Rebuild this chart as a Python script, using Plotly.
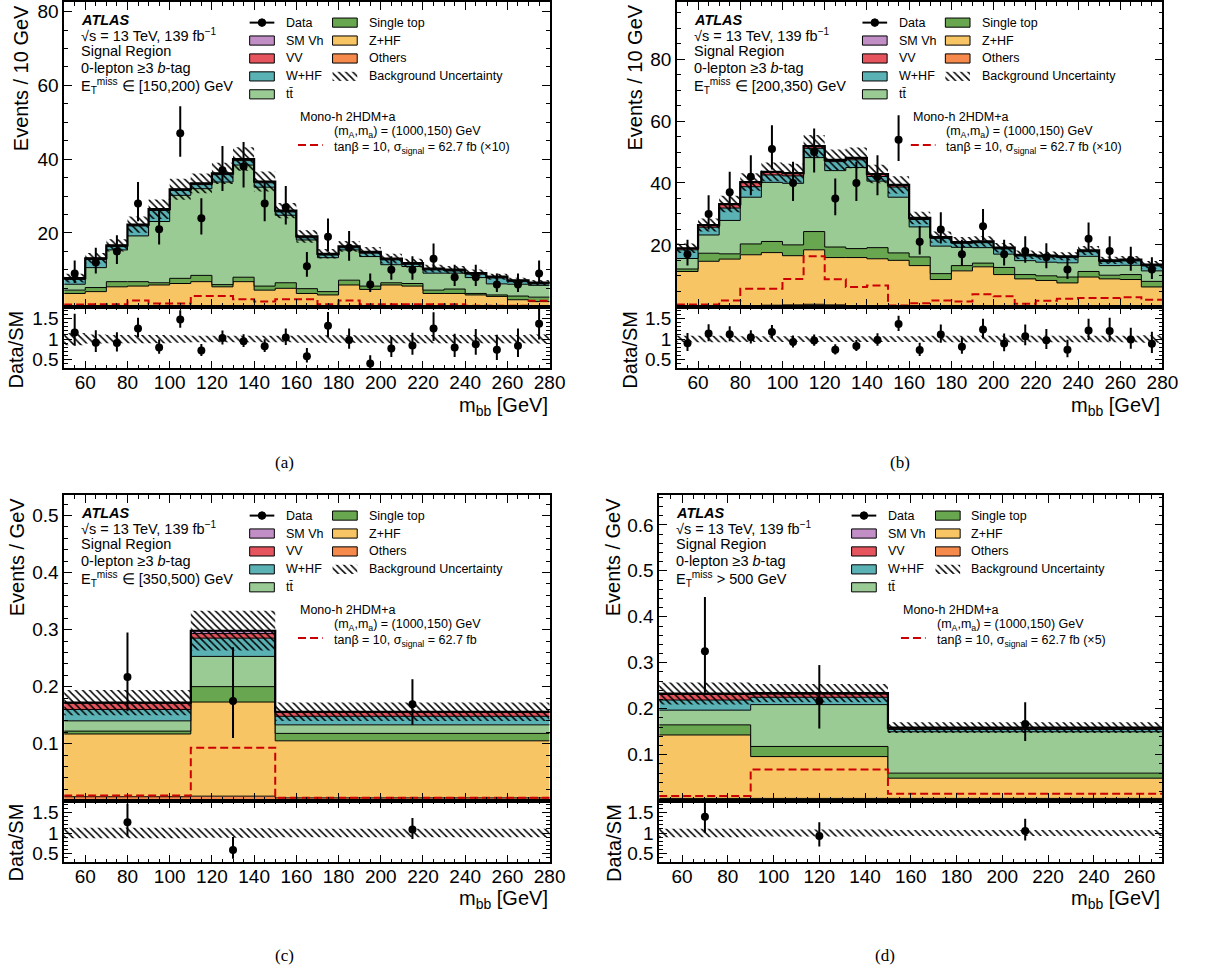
import numpy as np
import plotly.graph_objects as go

W, H = 1212, 976
FONT = "Liberation Sans, Arial, Helvetica, sans-serif"
SERIF = "Liberation Serif, Times New Roman, serif"

# ---------------- colours ----------------
C_OTHERS = "#f58a4c"
C_ZHF = "#f8c565"
C_STOP = "#68a74f"
C_TTBAR = "#9acb94"
C_WHF = "#5bb2b5"
C_VV = "#e6545d"
C_VH = "#c18ec6"
C_SIG = "#cc0000"

# ---------------- panel (a): MET in [150,200) ----------------
edges_a = [50, 60, 70, 80, 90, 100, 110, 120, 130, 140, 150, 160, 170, 180, 190, 200,
           210, 220, 230, 240, 250, 260, 270, 280]
data_a = [9, 12, 15, 28, 21, 47, 24, 37, 38, 28, 27, 11, 19, 16, 6, 10, 10, 13, 8, 8, 6, 6, 9]
others_a = [0.2, 0.2, 0.3, 0.2, 0.2, 0.3, 0.2, 0.2, 0.3, 0.2, 0.2, 0.2, 0.1, 0.2, 0.2, 0.2,
            0.1, 0.1, 0.2, 0.1, 0.1, 0.1, 0.1]
zhf_a = [3.4, 3.9, 5.1, 5.4, 5.7, 6.0, 6.6, 5.2, 6.5, 4.3, 4.8, 3.4, 3.1, 5.7, 4.5, 5.7,
         5.5, 3.5, 3.4, 3.1, 2.7, 1.8, 1.3]
stop_a = [0.9, 1.1, 1.4, 1.2, 0.6, 1.4, 1.7, 0.6, 1.2, 1.1, 1.5, 1.3, 0.9, 1.3, 0.9, 0.6,
          0.7, 0.9, 1.2, 0.4, 0.4, 1.0, 1.2]
ttbar_a = [1.6, 5.4, 8.6, 12.4, 16.6, 22.5, 23.5, 27.8, 30.4, 26.8, 18.3, 13.2, 9.2, 8.2,
           8.0, 4.9, 4.6, 4.6, 4.3, 4.3, 3.0, 3.2, 3.2]
whf_a = [1.3, 2.2, 0.9, 2.7, 3.0, 1.3, 1.1, 2.0, 1.2, 1.2, 0.9, 0.6, 0.7, 0.6, 0.9, 1.3,
         0.6, 0.9, 0.6, 0.9, 1.6, 0.7, 0.4]
vv_a = [0.3, 0.3, 0.3, 0.3, 0.3, 0.3, 0.3, 0.3, 0.4, 0.3, 0.3, 0.3, 0.3, 0.3, 0.3, 0.3,
        0.3, 0.3, 0.3, 0.3, 0.3, 0.3, 0.3]
vh_a = [0.05, 0.05, 0.05, 0.05, 0.05, 0.05, 0.05, 0.05, 0.05, 0.05, 0.05, 0.05, 0.05, 0.05,
        0.05, 0.05, 0.05, 0.05, 0.05, 0.05, 0.05, 0.05, 0.05]
sig_a = [0.6, 0.7, 0.7, 1.7, 0.9, 0.9, 2.9, 2.9, 2.0, 1.4, 2.0, 2.0, 0.7, 1.7, 0.7, 0.7,
         0.7, 0.7, 0.7, 0.3, 0.3, 0.3, 1.6]
relunc_a = [0.15, 0.11, 0.10, 0.10, 0.10, 0.09, 0.08, 0.08, 0.08, 0.08, 0.08, 0.09, 0.09,
            0.09, 0.09, 0.10, 0.10, 0.10, 0.10, 0.10, 0.10, 0.10, 0.11]

# ---------------- panel (b): MET in [200,350) ----------------
edges_b = edges_a
data_b = [17, 30, 37, 42, 51, 40, 50, 35, 40, 42, 54, 21, 25, 17, 26, 17, 18, 16, 12, 22, 18, 15, 12]
others_b = [0.3, 0.3, 0.3, 0.4, 0.5, 0.6, 0.8, 0.6, 0.4, 0.3, 0.3, 0.2, 0.2, 0.2, 0.2, 0.2,
            0.2, 0.2, 0.2, 0.2, 0.2, 0.2, 0.2]
zhf_b = [11.1, 14.4, 15.1, 16.4, 17.0, 15.9, 17.6, 15.3, 15.5, 15.2, 14.7, 13.1, 8.6, 11.4,
         12.7, 10.2, 8.8, 8.3, 7.5, 9.4, 8.8, 8.6, 6.2]
stop_b = [0.8, 2.6, 1.7, 3.5, 3.6, 3.5, 5.9, 3.4, 2.9, 3.6, 2.4, 2.8, 1.9, 1.7, 1.2, 2.3,
          1.4, 1.5, 1.9, 1.8, 1.2, 1.6, 1.8]
ttbar_b = [3.4, 5.9, 10.8, 15.1, 19.1, 19.9, 23.9, 24.7, 26.2, 21.5, 18.0, 9.7, 8.9, 5.9,
           5.0, 4.3, 4.5, 4.4, 4.6, 4.9, 3.1, 3.0, 3.4]
whf_b = [2.8, 2.5, 4.0, 3.4, 2.4, 2.4, 3.0, 2.9, 2.5, 1.5, 3.3, 2.4, 2.5, 1.3, 1.6, 1.7,
         1.5, 1.7, 1.7, 1.5, 1.3, 1.4, 1.6]
vv_b = [0.4, 0.6, 1.2, 1.4, 0.9, 0.8, 0.6, 0.5, 0.5, 0.7, 0.6, 0.4, 0.3, 0.3, 0.3, 0.3,
        0.3, 0.3, 0.3, 0.3, 0.3, 0.3, 0.3]
vh_b = [0.1, 0.1, 0.1, 0.1, 0.1, 0.1, 0.1, 0.1, 0.1, 0.1, 0.1, 0.1, 0.1, 0.1, 0.1, 0.1,
        0.1, 0.1, 0.1, 0.1, 0.1, 0.1, 0.1]
sig_b = [0.7, 0.7, 2.0, 5.8, 5.8, 9.0, 16.3, 8.9, 6.4, 6.9, 0.4, 1.1, 2.0, 1.7, 4.0, 3.4,
         1.0, 1.9, 2.6, 2.8, 2.8, 3.1, 2.3]
relunc_b = [0.08, 0.08, 0.08, 0.07, 0.07, 0.07, 0.07, 0.07, 0.07, 0.07, 0.07, 0.07, 0.08,
            0.08, 0.08, 0.08, 0.08, 0.08, 0.08, 0.08, 0.08, 0.08, 0.09]

# ---------------- panel (c): MET in [350,500) ----------------
edges_c = [50, 110, 150, 280]
data_c = [0.217, 0.175, 0.169]
errup_c = [0.078, 0.094, 0.044]
errdn_c = [0.060, 0.065, 0.036]
others_c = [0.007, 0.008, 0.005]
zhf_c = [0.110, 0.165, 0.100]
stop_c = [0.005, 0.027, 0.013]
ttbar_c = [0.018, 0.053, 0.015]
whf_c = [0.020, 0.032, 0.015]
vv_c = [0.011, 0.008, 0.007]
vh_c = [0.001, 0.005, 0.001]
sig_c = [0.009, 0.093, 0.005]
relunc_c = [0.128, 0.117, 0.103]

# ---------------- panel (d): MET > 500 ----------------
edges_d = [50, 90, 150, 270]
data_d = [0.325, 0.217, 0.167]
errup_d = [0.118, 0.078, 0.047]
errdn_d = [0.090, 0.060, 0.037]
others_d = [0.005, 0.005, 0.005]
zhf_d = [0.138, 0.091, 0.044]
stop_d = [0.022, 0.022, 0.011]
ttbar_d = [0.032, 0.091, 0.090]
whf_d = [0.022, 0.016, 0.005]
vv_d = [0.012, 0.007, 0.003]
vh_d = [0.002, 0.002, 0.001]
sig_d = [0.010, 0.068, 0.015]
relunc_d = [0.103, 0.085, 0.075]

fig = go.Figure()

HATCH = dict(shape="\\", fgcolor="black", bgcolor="rgba(0,0,0,0)", fgopacity=1, size=5, solidity=0.3)


def poisson_err(counts):
    n = np.asarray(counts, float)
    s = np.sqrt(n + 0.25)
    return s + 0.5, s - 0.5


def band(xa, ya, edges, lo, hi):
    fig.add_trace(go.Scatter(x=edges, y=np.append(lo, lo[-1]), xaxis=xa, yaxis=ya, mode="lines",
                             line=dict(width=0, shape="hv", color="rgba(0,0,0,0)"),
                             showlegend=False, hoverinfo="skip"))
    fig.add_trace(go.Scatter(x=edges, y=np.append(hi, hi[-1]), xaxis=xa, yaxis=ya, mode="lines",
                             line=dict(width=0, shape="hv", color="rgba(0,0,0,0)"),
                             fill="tonexty", fillcolor="rgba(0,0,0,0)", fillpattern=HATCH,
                             showlegend=False, hoverinfo="skip"))


def panel(xm, ym, xr, yr, edges, comps, data, eup, edn, rel, sig):
    edges = np.asarray(edges, float)
    cum = np.zeros(len(edges) - 1)
    for k, (vals, col) in enumerate(comps):
        cum = cum + np.asarray(vals, float)
        fig.add_trace(go.Scatter(x=edges, y=np.append(cum, cum[-1]), xaxis=xm, yaxis=ym, mode="lines",
                                 line=dict(color="black", width=1, shape="hv"),
                                 fill="tozeroy" if k == 0 else "tonexty", fillcolor=col,
                                 showlegend=False, hoverinfo="skip"))
    total = cum
    rel = np.asarray(rel, float)
    band(xm, ym, edges, total * (1 - rel), total * (1 + rel))
    fig.add_trace(go.Scatter(x=edges, y=np.append(total, total[-1]), xaxis=xm, yaxis=ym, mode="lines",
                             line=dict(color="black", width=2.2, shape="hv"),
                             showlegend=False, hoverinfo="skip"))
    sig = np.asarray(sig, float)
    fig.add_trace(go.Scatter(x=edges, y=np.append(sig, sig[-1]), xaxis=xm, yaxis=ym, mode="lines",
                             line=dict(color=C_SIG, width=2, dash="8px,4px", shape="hv"),
                             showlegend=False, hoverinfo="skip"))
    centers = 0.5 * (edges[1:] + edges[:-1])
    data = np.asarray(data, float)
    eup = np.asarray(eup, float)
    edn = np.asarray(edn, float)
    fig.add_trace(go.Scatter(x=centers, y=data, xaxis=xm, yaxis=ym, mode="markers",
                             marker=dict(color="black", size=8),
                             error_y=dict(type="data", symmetric=False, array=eup, arrayminus=edn,
                                          color="black", thickness=2, width=0),
                             showlegend=False, hoverinfo="skip"))
    band(xr, yr, edges, 1 - rel, 1 + rel)
    fig.add_trace(go.Scatter(x=centers, y=data / total, xaxis=xr, yaxis=yr, mode="markers",
                             marker=dict(color="black", size=8),
                             error_y=dict(type="data", symmetric=False, array=eup / total,
                                          arrayminus=edn / total, color="black", thickness=2, width=0),
                             showlegend=False, hoverinfo="skip"))


def comps(o, z, s, t, w, v, h):
    return [(o, C_OTHERS), (z, C_ZHF), (s, C_STOP), (t, C_TTBAR), (w, C_WHF), (v, C_VV), (h, C_VH)]


eu_a, ed_a = poisson_err(data_a)
eu_b, ed_b = poisson_err(data_b)
panel("x", "y", "x2", "y2", edges_a, comps(others_a, zhf_a, stop_a, ttbar_a, whf_a, vv_a, vh_a),
      data_a, eu_a, ed_a, relunc_a, sig_a)
panel("x3", "y3", "x4", "y4", edges_b, comps(others_b, zhf_b, stop_b, ttbar_b, whf_b, vv_b, vh_b),
      data_b, eu_b, ed_b, relunc_b, sig_b)
panel("x5", "y5", "x6", "y6", edges_c, comps(others_c, zhf_c, stop_c, ttbar_c, whf_c, vv_c, vh_c),
      data_c, errup_c, errdn_c, relunc_c, sig_c)
panel("x7", "y7", "x8", "y8", edges_d, comps(others_d, zhf_d, stop_d, ttbar_d, whf_d, vv_d, vh_d),
      data_d, errup_d, errdn_d, relunc_d, sig_d)


# ---------------- axes ----------------
def fmt(v):
    return f"{v:g}"


def axis(domain, rng, anchor, tickvals, minor_dtick, showlabels=True, standoff=0):
    return dict(domain=domain, range=rng, anchor=anchor, showline=True, linecolor="black",
                linewidth=1.5, mirror="allticks", ticks="inside", ticklen=8, tickwidth=1.2,
                tickcolor="black", showgrid=False, zeroline=False, showticklabels=showlabels,
                tickmode="array", tickvals=tickvals, ticktext=[fmt(v) for v in tickvals],
                tickfont=dict(family=FONT, size=19, color="black"), ticklabelstandoff=standoff,
                minor=dict(ticks="inside", ticklen=4, tickwidth=1, tickcolor="black",
                           tickmode="linear", tick0=0, dtick=minor_dtick, showgrid=False),
                fixedrange=True)


def px(x):
    return x / W


def py(y):
    return 1 - y / H


xt_ac = [60, 80, 100, 120, 140, 160, 180, 200, 220, 240, 260, 280]
xt_d = [60, 80, 100, 120, 140, 160, 180, 200, 220, 240, 260]
rt = [0.5, 1, 1.5]
RR = [0.28, 1.79]

XA = [px(65), px(557)]
XB = [px(686), px(1178)]
XD = [px(668), px(1178)]
YTOP_M = [py(306), 1.0]
YTOP_R = [py(368), py(306)]
YBOT_M = [py(802), py(495)]
YBOT_R = [py(864), py(802)]
SO = -4

layout_axes = dict(
    xaxis=axis(XA, [50, 280], "y", xt_ac, 5, False),
    yaxis=axis(YTOP_M, [0, 82.6], "x", [20, 40, 60, 80], 5),
    xaxis2=axis(XA, [50, 280], "y2", xt_ac, 5, True, SO),
    yaxis2=axis(YTOP_R, RR, "x2", rt, 0.1),
    xaxis3=axis(XB, [50, 280], "y3", xt_ac, 5, False),
    yaxis3=axis(YTOP_M, [0, 98.5], "x3", [20, 40, 60, 80], 5),
    xaxis4=axis(XB, [50, 280], "y4", xt_ac, 5, True, SO),
    yaxis4=axis(YTOP_R, RR, "x4", rt, 0.1),
    xaxis5=axis(XA, [50, 280], "y5", xt_ac, 5, False),
    yaxis5=axis(YBOT_M, [0, 0.536], "x5", [0.1, 0.2, 0.3, 0.4, 0.5], 0.02),
    xaxis6=axis(XA, [50, 280], "y6", xt_ac, 5, True, SO),
    yaxis6=axis(YBOT_R, RR, "x6", rt, 0.1),
    xaxis7=axis(XD, [50, 270], "y7", xt_d, 5, False),
    yaxis7=axis(YBOT_M, [0, 0.665], "x7", [0.1, 0.2, 0.3, 0.4, 0.5, 0.6], 0.02),
    xaxis8=axis(XD, [50, 270], "y8", xt_d, 5, True, SO),
    yaxis8=axis(YBOT_R, RR, "x8", rt, 0.1),
    xaxis9=dict(domain=[0, 1], range=[0, W], anchor="y9", visible=False, fixedrange=True),
    yaxis9=dict(domain=[0, 1], range=[H, 0], anchor="x9", visible=False, fixedrange=True),
)

annotations = []
shapes = []


def text(x, y, s, size=12.5, xanchor="left", yanchor="middle", family=FONT, angle=0):
    annotations.append(dict(x=px(x), y=py(y), xref="paper", yref="paper", text=s, showarrow=False,
                            xanchor=xanchor, yanchor=yanchor, textangle=angle,
                            font=dict(family=family, size=size, color="black")))


def box(x0, x1, yc, color):
    shapes.append(dict(type="rect", xref="paper", yref="paper", x0=px(x0), x1=px(x1),
                       y0=py(yc + 4.6), y1=py(yc - 4.6), fillcolor=color,
                       line=dict(color="black", width=1)))


def hatch_box(x0, x1, yc):
    fig.add_trace(go.Scatter(x=[x0, x1, x1, x0, x0], y=[yc - 4.6, yc - 4.6, yc + 4.6, yc + 4.6, yc - 4.6],
                             xaxis="x9", yaxis="y9", mode="lines", line=dict(width=0),
                             fill="toself", fillcolor="rgba(0,0,0,0)", fillpattern=HATCH,
                             showlegend=False, hoverinfo="skip"))


def decorations(L, T, emiss, sigscale, lay):
    s1a, s1b, l1, s2a, s2b, l2, ms, mi = lay
    hs = 14.5
    text(L + 15, T + 18.5, "<b><i>ATLAS</i></b>", hs)
    text(L + 15, T + 33.5, "√s = 13 TeV, 139 fb<sup>−1</sup>", hs)
    text(L + 15, T + 49.5, "Signal Region", hs)
    text(L + 15, T + 66.5, "0-lepton ≥3 <i>b</i>-tag", hs)
    text(L + 15, T + 84.5, "E<sub>T</sub><sup>miss</sup> " + emiss, hs)
    rows = [20.7, 38.7, 56.7, 74.7, 92.7]
    # column 1
    shapes.append(dict(type="line", xref="paper", yref="paper", x0=px(L + s1a), x1=px(L + s1b),
                       y0=py(T + rows[0]), y1=py(T + rows[0]), line=dict(color="black", width=2)))
    cx = L + 0.5 * (s1a + s1b)
    shapes.append(dict(type="circle", xref="paper", yref="paper", x0=px(cx - 3.8), x1=px(cx + 3.8),
                       y0=py(T + rows[0] + 3.8), y1=py(T + rows[0] - 3.8), fillcolor="black",
                       line=dict(color="black", width=1)))
    text(L + l1, T + rows[0], "Data")
    for r, (lab, col) in zip(rows[1:], [("SM Vh", C_VH), ("VV", C_VV), ("W+HF", C_WHF),
                                         ("t\u0074\u0304", C_TTBAR)]):
        box(L + s1a, L + s1b, T + r, col)
        text(L + l1, T + r, lab)
    # column 2
    for r, (lab, col) in zip(rows[:3], [("Single top", C_STOP), ("Z+HF", C_ZHF), ("Others", C_OTHERS)]):
        box(L + s2a, L + s2b, T + r, col)
        text(L + l2, T + r, lab)
    hatch_box(L + s2a, L + s2b, T + rows[3])
    text(L + l2, T + rows[3], "Background Uncertainty")
    # signal
    text(L + ms, T + 115, "Mono-h 2HDM+a")
    text(L + mi, T + 131, "(m<sub>A</sub>,m<sub>a</sub>) = (1000,150) GeV")
    shapes.append(dict(type="line", xref="paper", yref="paper", x0=px(L + ms), x1=px(L + ms + 25),
                       y0=py(T + 143.5), y1=py(T + 143.5),
                       line=dict(color=C_SIG, width=2, dash="8px,4px")))
    text(L + mi, T + 146.5, "tanβ = 10, σ<sub>signal</sub> = 62.7 fb" + sigscale)


LAY = (188, 213, 223, 272, 297, 307, 237, 271)
LAY_D = (195, 220, 230, 280, 305, 314, 245, 280)
decorations(65, 0, "∈ [150,200) GeV", " (×10)", LAY)
decorations(686, 0, "∈ [200,350) GeV", " (×10)", LAY)
decorations(65, 495, "∈ [350,500) GeV", "", LAY)
decorations(668, 495, "> 500 GeV", " (×5)", LAY_D)

# axis titles
TS = 20
text(21.5, 1, "Events / 10 GeV", TS, "center", "top", angle=-90)
text(643, 1, "Events / 10 GeV", TS, "center", "top", angle=-90)
text(17.5, 496, "Events / GeV", TS, "center", "top", angle=-90)
text(621.5, 496, "Events / GeV", TS, "center", "top", angle=-90)
text(16, 308, "Data/SM", TS, "center", "top", angle=-90)
text(638.5, 308, "Data/SM", TS, "center", "top", angle=-90)
text(16, 803, "Data/SM", TS, "center", "top", angle=-90)
text(621.5, 803, "Data/SM", TS, "center", "top", angle=-90)
text(557, 392, "m<sub>bb</sub> [GeV]", TS, "right", "top")
text(1178, 392, "m<sub>bb</sub> [GeV]", TS, "right", "top")
text(557, 887, "m<sub>bb</sub> [GeV]", TS, "right", "top")
text(1178, 887, "m<sub>bb</sub> [GeV]", TS, "right", "top")

# panel labels
text(288, 462, "(a)", 17, "center", "middle", family=SERIF)
text(912, 462, "(b)", 17, "center", "middle", family=SERIF)
text(288, 957, "(c)", 17, "center", "middle", family=SERIF)
text(897, 957, "(d)", 17, "center", "middle", family=SERIF)

fig.update_layout(width=W, height=H, margin=dict(l=0, r=0, t=0, b=0, pad=0),
                  paper_bgcolor="white", plot_bgcolor="rgba(0,0,0,0)", showlegend=False,
                  font=dict(family=FONT, color="black"), annotations=annotations, shapes=shapes,
                  **layout_axes)

fig.write_html("out.html")
